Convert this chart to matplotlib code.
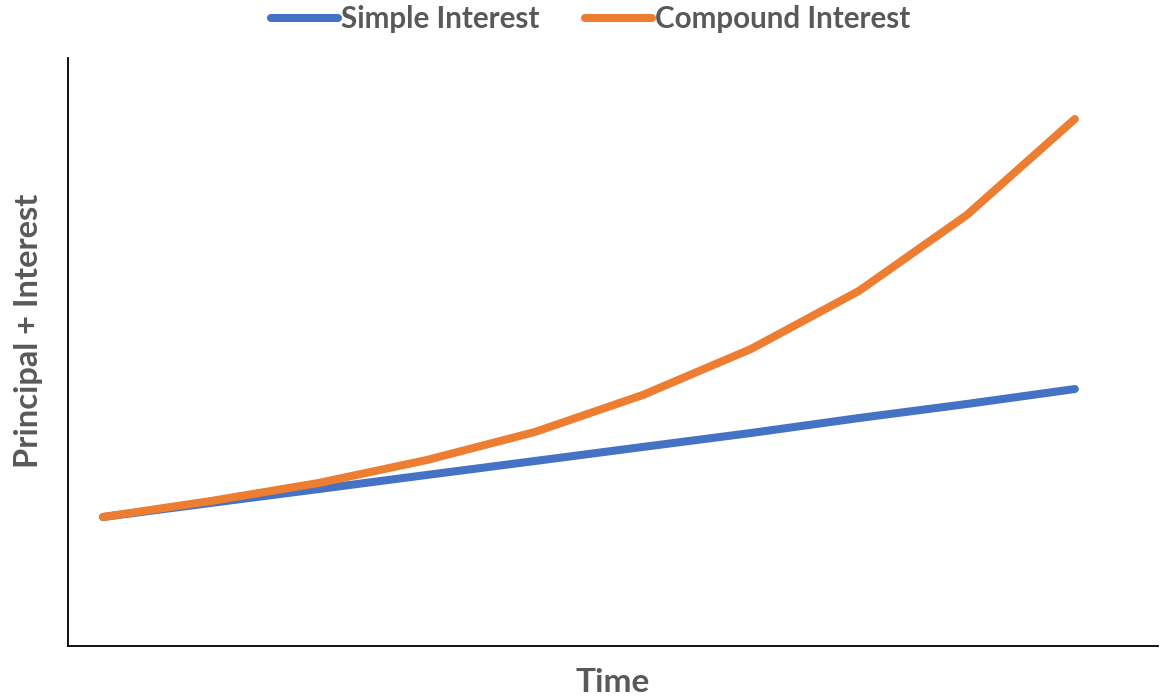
import matplotlib
matplotlib.use("Agg")
import matplotlib.pyplot as plt
from matplotlib.lines import Line2D

# Growth of a principal over ten periods (principal = 100)
periods = list(range(10))
simple_interest = [100, 110.9, 121.7, 132.6, 143.4, 154.3, 165.1, 176.7, 187.6, 199.2]
compound_interest = [100, 112.4, 126.4, 144.2, 165.9, 194.6, 230.2, 275.2, 334.1, 408.5]
series_names = ["Simple Interest", "Compound Interest"]
series_colors = ["#4472C4", "#ED7D31"]

TEXT_COLOR = "#595959"
FONT = ["Lato", "DejaVu Sans"]

fig = plt.figure(figsize=(11.6, 6.96), dpi=100)
ax = fig.add_axes([68 / 1160, 50 / 696, 1090 / 1160, 588 / 696])

for values, name, color in zip([simple_interest, compound_interest], series_names, series_colors):
    ax.plot(periods, values, color=color, lw=5.8, solid_capstyle="round",
            solid_joinstyle="round", label=name)

ax.set_xlim(-0.324, 9.77)
ax.set_ylim(0, 455.8)
ax.set_xticks([])
ax.set_yticks([])
for side in ("top", "right"):
    ax.spines[side].set_visible(False)
for side in ("left", "bottom"):
    ax.spines[side].set_color("#000000")
    ax.spines[side].set_linewidth(1.3)

ax.set_xlabel("Time", fontsize=24, fontweight="bold", color=TEXT_COLOR,
              family=FONT, labelpad=16)
ax.set_ylabel("Principal + Interest", fontsize=23.5, fontweight="bold",
              color=TEXT_COLOR, family=FONT)
ax.yaxis.set_label_coords(-0.023, 0.536)

handles = [Line2D([0], [0], color=c, lw=5.8, solid_capstyle="round") for c in series_colors]
leg = fig.legend(handles, series_names, loc="center", bbox_to_anchor=(591 / 1160, 1 - 19 / 696),
                 ncol=2, frameon=False, handlelength=2.26, handletextpad=0.1,
                 columnspacing=1.55, prop={"family": FONT, "weight": "bold", "size": 21.3})
for t in leg.get_texts():
    t.set_color(TEXT_COLOR)

fig.savefig("out.png", dpi=100, facecolor="white")
